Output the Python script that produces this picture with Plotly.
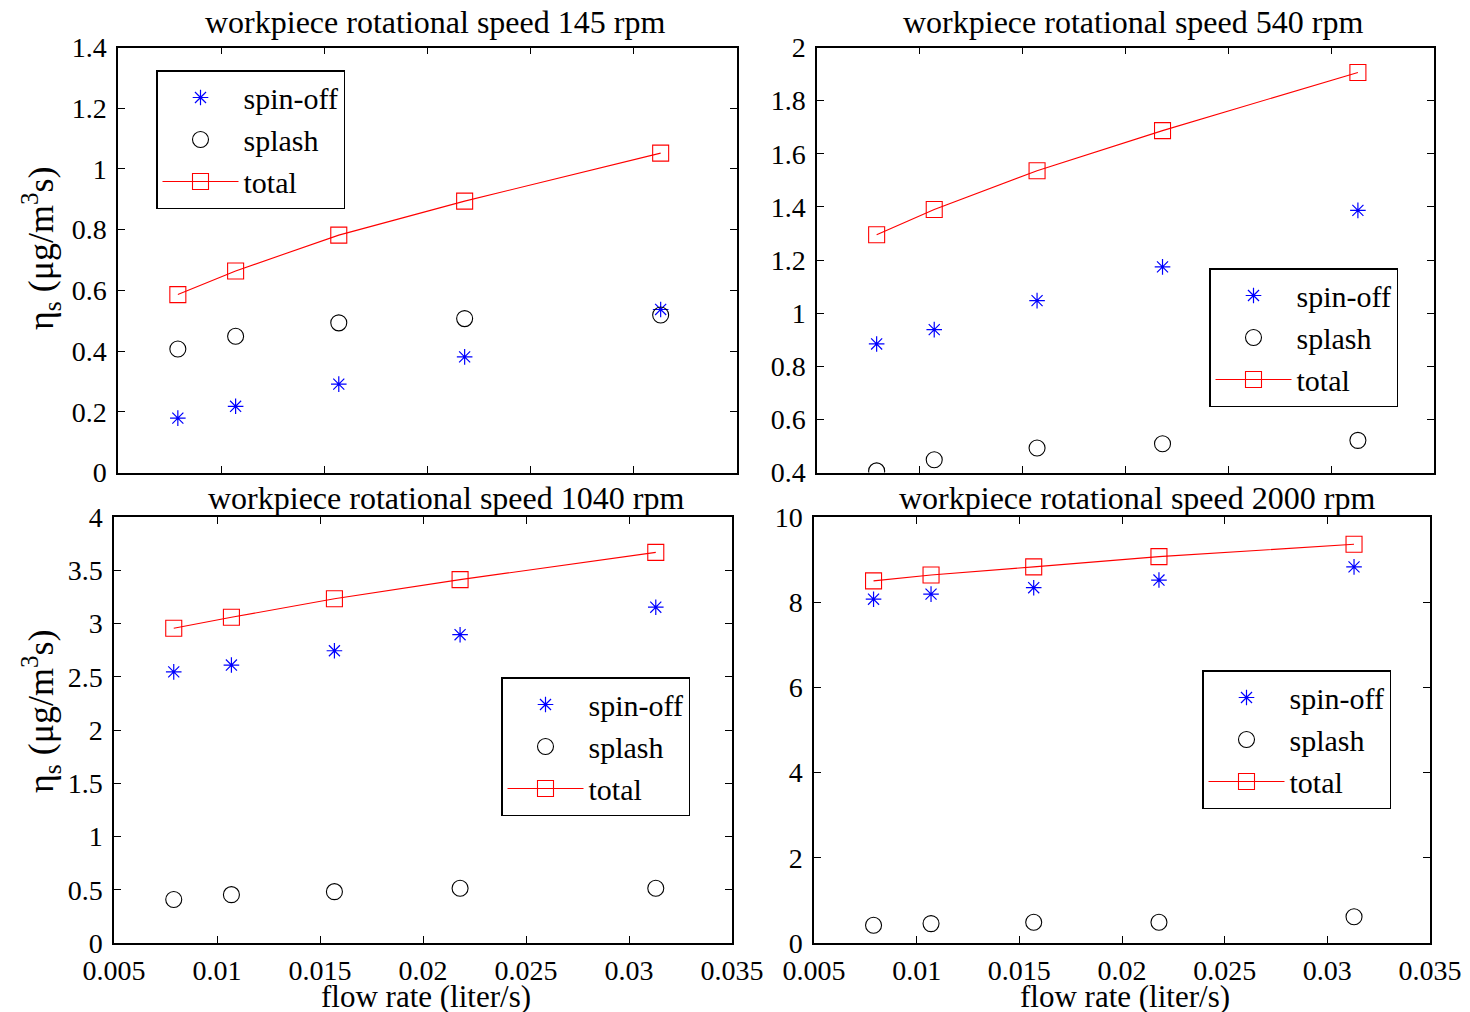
import plotly.graph_objects as go

# ---------------- data ----------------
flow_rate = [0.0079, 0.0107, 0.0157, 0.0218, 0.0313]

spin_145 = [0.179, 0.218, 0.291, 0.381, 0.537]
splash_145 = [0.407, 0.449, 0.493, 0.507, 0.519]
total_145 = [0.586, 0.664, 0.782, 0.894, 1.052]

spin_540 = [0.884, 0.938, 1.047, 1.174, 1.387]
splash_540 = [0.406, 0.448, 0.492, 0.508, 0.521]
total_540 = [1.295, 1.390, 1.536, 1.687, 1.906]

spin_1040 = [2.546, 2.610, 2.744, 2.895, 3.153]
splash_1040 = [0.409, 0.454, 0.482, 0.514, 0.514]
total_1040 = [2.955, 3.058, 3.233, 3.412, 3.668]

spin_2000 = [8.07, 8.19, 8.34, 8.52, 8.83]
splash_2000 = [0.415, 0.455, 0.487, 0.487, 0.615]
total_2000 = [8.50, 8.64, 8.83, 9.07, 9.36]

speeds = ["145", "540", "1040", "2000"]
series_names = ["spin-off", "splash", "total"]

x_ticks = [0.005, 0.01, 0.015, 0.02, 0.025, 0.03, 0.035]
x_tick_labels = ["0.005", "0.01", "0.015", "0.02", "0.025", "0.03", "0.035"]

y_ticks_145 = [0, 0.2, 0.4, 0.6, 0.8, 1.0, 1.2, 1.4]
y_labels_145 = ["0", "0.2", "0.4", "0.6", "0.8", "1", "1.2", "1.4"]
y_ticks_540 = [0.4, 0.6, 0.8, 1.0, 1.2, 1.4, 1.6, 1.8, 2.0]
y_labels_540 = ["0.4", "0.6", "0.8", "1", "1.2", "1.4", "1.6", "1.8", "2"]
y_ticks_1040 = [0, 0.5, 1, 1.5, 2, 2.5, 3, 3.5, 4]
y_labels_1040 = ["0", "0.5", "1", "1.5", "2", "2.5", "3", "3.5", "4"]
y_ticks_2000 = [0, 2, 4, 6, 8, 10]
y_labels_2000 = ["0", "2", "4", "6", "8", "10"]

# ---------------- layout helpers ----------------
W, H = 1470, 1012
FONT = "Liberation Serif"
BLUE = "rgb(0,0,255)"
RED = "rgb(255,0,0)"


def px_x(p):
    return p / W


def px_y(p):
    return 1 - p / H


panels = [
    dict(spin=spin_145, splash=splash_145, total=total_145, yr=[0, 1.4],
         yt=y_ticks_145, yl=y_labels_145, xd=[118, 737], yd=[47.5, 472.5],
         leg=(156, 70), title=(435, 22), xlab=False, ytitle=(41, 248)),
    dict(spin=spin_540, splash=splash_540, total=total_540, yr=[0.4, 2.0],
         yt=y_ticks_540, yl=y_labels_540, xd=[817, 1434], yd=[47.5, 472.5],
         leg=(1209, 268), title=(1133, 22), xlab=False, ytitle=None),
    dict(spin=spin_1040, splash=splash_1040, total=total_1040, yr=[0, 4],
         yt=y_ticks_1040, yl=y_labels_1040, xd=[114, 732], yd=[517, 943],
         leg=(501, 677), title=(446, 498), xlab=True, ytitle=(41, 711)),
    dict(spin=spin_2000, splash=splash_2000, total=total_2000, yr=[0, 10],
         yt=y_ticks_2000, yl=y_labels_2000, xd=[814, 1430], yd=[517, 943],
         leg=(1202, 670), title=(1137, 498), xlab=True, ytitle=None),
]

fig = go.Figure()
annotations = []
layout = dict(
    width=W, height=H,
    margin=dict(l=0, r=0, t=0, b=0, pad=0, autoexpand=False),
    paper_bgcolor="white", plot_bgcolor="white",
    font=dict(family=FONT, color="black", size=28),
    showlegend=True,
)

for i, p in enumerate(panels):
    n = i + 1
    xa = "x" if n == 1 else f"x{n}"
    ya = "y" if n == 1 else f"y{n}"
    legname = "legend" if n == 1 else f"legend{n}"

    fig.add_trace(go.Scatter(
        x=flow_rate, y=p["spin"], mode="markers", name=series_names[0],
        xaxis=xa, yaxis=ya, legend=legname,
        marker=dict(symbol="asterisk-open", size=13, color=BLUE,
                    line=dict(color=BLUE, width=1.2)),
    ))
    fig.add_trace(go.Scatter(
        x=flow_rate, y=p["splash"], mode="markers", name=series_names[1],
        xaxis=xa, yaxis=ya, legend=legname,
        marker=dict(symbol="circle-open", size=16, color="black",
                    line=dict(color="black", width=1.1)),
    ))
    fig.add_trace(go.Scatter(
        x=flow_rate, y=p["total"], mode="lines+markers", name=series_names[2],
        xaxis=xa, yaxis=ya, legend=legname,
        line=dict(color=RED, width=1.1),
        marker=dict(symbol="square-open", size=16, color=RED,
                    line=dict(color=RED, width=1.1)),
    ))

    axis_common = dict(
        showline=True, linecolor="black", linewidth=1.5, mirror="ticks",
        ticks="inside", ticklen=7, tickwidth=1.2, tickcolor="black",
        showgrid=False, zeroline=False, fixedrange=True, automargin=False,
        tickfont=dict(family=FONT, size=28, color="black"),
    )
    layout[("xaxis" if n == 1 else f"xaxis{n}")] = dict(
        axis_common, domain=[px_x(p["xd"][0]), px_x(p["xd"][1])],
        range=[0.005, 0.035], tickmode="array", tickvals=x_ticks,
        ticktext=x_tick_labels, showticklabels=p["xlab"], anchor=ya,
        ticklabelstandoff=2,
    )
    layout[("yaxis" if n == 1 else f"yaxis{n}")] = dict(
        axis_common, domain=[px_y(p["yd"][1]), px_y(p["yd"][0])],
        range=p["yr"], tickmode="array", tickvals=p["yt"], ticktext=p["yl"],
        anchor=xa, ticklabelstandoff=4,
    )
    layout[legname] = dict(
        x=px_x(p["leg"][0]), y=px_y(p["leg"][1]), xanchor="left", yanchor="top",
        xref="container", yref="container",
        bgcolor="white", bordercolor="black", borderwidth=1.5,
        font=dict(family=FONT, size=30, color="black"),
        itemwidth=76, tracegroupgap=0,
    )

    annotations.append(dict(
        text=f"workpiece rotational speed {speeds[i]} rpm",
        x=px_x(p["title"][0]), y=px_y(p["title"][1]), xref="paper", yref="paper",
        xanchor="center", yanchor="middle", showarrow=False,
        font=dict(family=FONT, size=32, color="black"),
    ))
    if p["ytitle"] is not None:
        annotations.append(dict(
            text="η<sub>s</sub> (μg/m<sup>3</sup>s)",
            x=px_x(p["ytitle"][0]), y=px_y(p["ytitle"][1]),
            xref="paper", yref="paper", xanchor="center", yanchor="middle",
            textangle=-90, showarrow=False,
            font=dict(family=FONT, size=36, color="black"),
        ))
    if p["xlab"]:
        annotations.append(dict(
            text="flow rate (liter/s)",
            x=px_x((p["xd"][0] + p["xd"][1]) / 2 + 3), y=px_y(996),
            xref="paper", yref="paper", xanchor="center", yanchor="middle",
            showarrow=False, font=dict(family=FONT, size=31, color="black"),
        ))

layout["annotations"] = annotations
fig.update_layout(**layout)

fig.write_html(
    "out.html",
    config={"displayModeBar": False},
    post_script="document.body.style.margin='0px';document.body.style.overflow='hidden';",
)
